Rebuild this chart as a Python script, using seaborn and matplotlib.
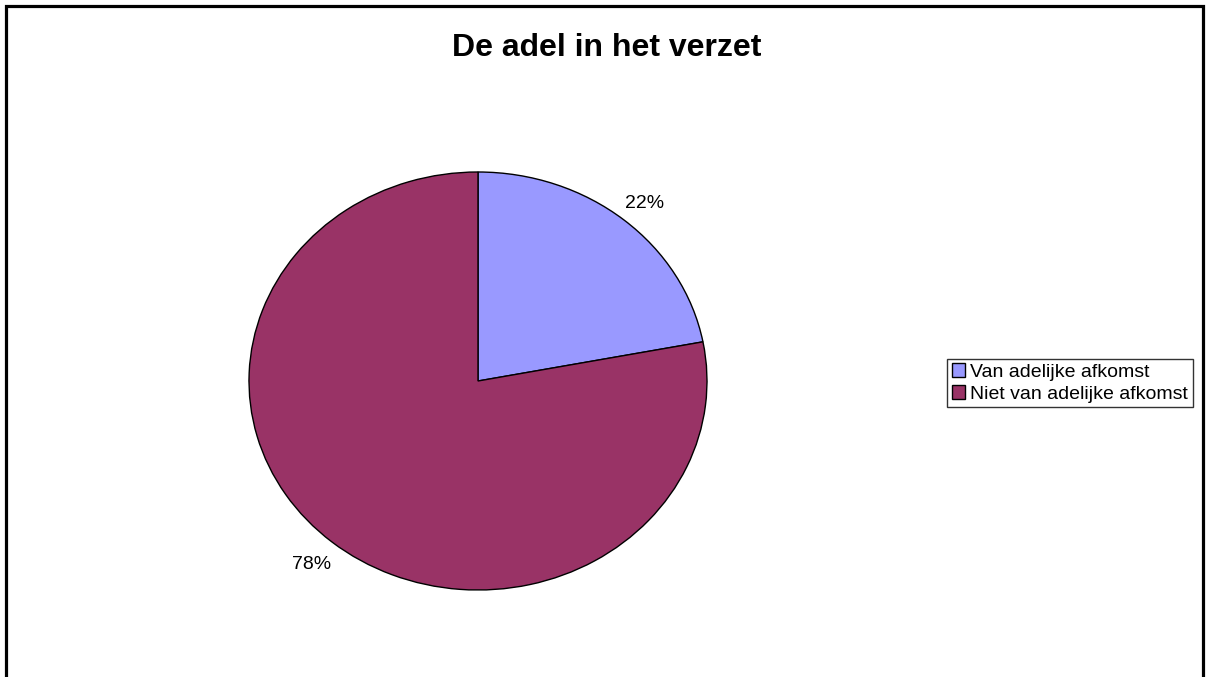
import matplotlib
matplotlib.use('Agg')
import matplotlib.pyplot as plt
import seaborn as sns
from matplotlib.patches import Rectangle

# data
labels = ['Van adelijke afkomst', 'Niet van adelijke afkomst']
shares = [22, 78]
colors = ['#9999FF', '#993366']
title = 'De adel in het verzet'

sns.set_theme(style='white')
plt.rcParams['font.family'] = ['Liberation Sans', 'DejaVu Sans']
plt.rcParams['text.color'] = 'black'

fig = plt.figure(figsize=(12.09, 6.77), dpi=100)
fig.patch.set_facecolor('white')

# pie axes stretched a bit (Excel style ellipse)
ax = fig.add_axes([249 / 1209, 87 / 677, 458 / 1209, 418 / 677])
wedges, texts, autotexts = ax.pie(
    shares, colors=colors, startangle=90, counterclock=False,
    autopct='%1.0f%%', pctdistance=1.14,
    wedgeprops=dict(edgecolor='black', linewidth=1.0),
    textprops=dict(fontsize=14, color='black'))
ax.set_aspect('auto')
ax.set_xlim(-1, 1)
ax.set_ylim(-1, 1)
ax.axis('off')
autotexts[0].set_position((autotexts[0].get_position()[0], autotexts[0].get_position()[1] - 0.03))

fig.text(607 / 1209, 1 - 48 / 677, title, ha='center', va='center',
         fontsize=23, fontweight='bold', color='black',
         family=['Liberation Sans Narrow', 'Liberation Sans', 'DejaVu Sans'])

leg = fig.legend(wedges, labels, loc='center left',
                 bbox_to_anchor=(947 / 1209, 1 - 383 / 677),
                 fontsize=14, frameon=True, fancybox=False,
                 handlelength=0.7, handleheight=0.7, handletextpad=0.25,
                 borderpad=0.25, labelspacing=0.2, borderaxespad=0)
leg.get_frame().set_edgecolor('black')
leg.get_frame().set_linewidth(1.0)
for t in leg.get_texts():
    t.set_color('black')

# outer frame (bottom edge cut off)
fig.patches.append(Rectangle((5.5 / 1209, -0.1), 1197 / 1209, 1.1 - 5.5 / 677,
                             transform=fig.transFigure, fill=False,
                             edgecolor='black', linewidth=2.3))

fig.savefig('out.png', dpi=100)
